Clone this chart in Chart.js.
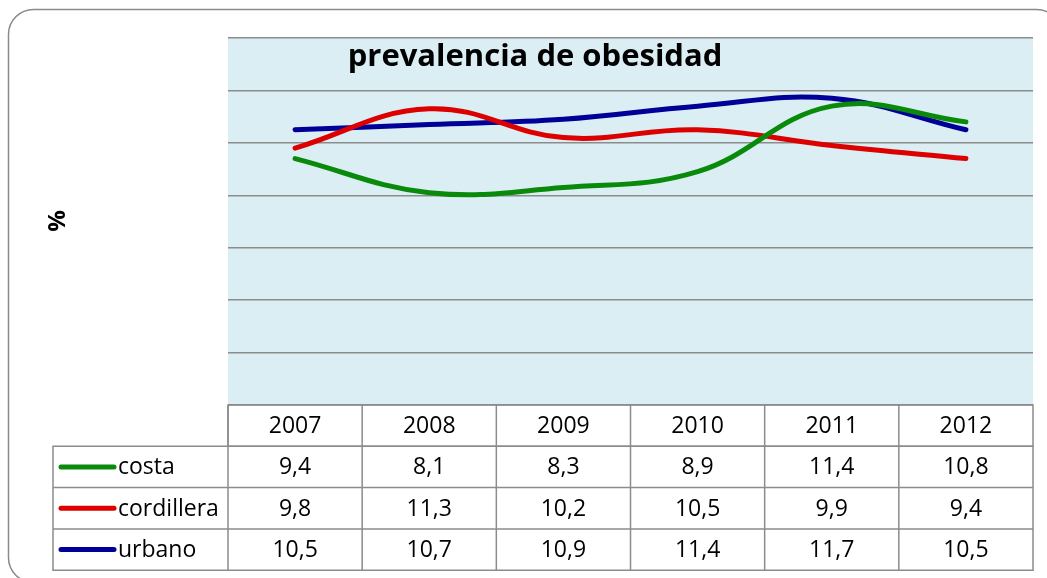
<!DOCTYPE html>
<html>
<head>
<meta charset="utf-8">
<script src="https://cdn.jsdelivr.net/npm/chart.js@4"></script>
<style>
html,body{margin:0;padding:0;background:#fff;}
#wrap{width:1047px;height:578px;position:relative;}
</style>
</head>
<body>
<div id="wrap"><canvas id="c" width="1047" height="578"></canvas></div>
<script>
const categories = ['2007', '2008', '2009', '2010', '2011', '2012'];
const seriesNames = ['costa', 'cordillera', 'urbano'];
const costa = [9.4, 8.1, 8.3, 8.9, 11.4, 10.8];
const cordillera = [9.8, 11.3, 10.2, 10.5, 9.9, 9.4];
const urbano = [10.5, 10.7, 10.9, 11.4, 11.7, 10.5];
const seriesColors = ['#0a8a0a', '#dd0000', '#000099'];
const yMin = 0, yMax = 14, yStep = 2;
const titleText = 'prevalencia de obesidad';
const yAxisLabel = '%';

const seriesValues = [costa, cordillera, urbano];
const FONT = '"Open Sans", "DejaVu Sans", sans-serif';

function fmt(v) { return v.toFixed(1).replace('.', ','); }

const decorPlugin = {
  id: 'decor',
  beforeDraw(chart) {
    const ctx = chart.ctx, a = chart.chartArea;
    ctx.save();
    ctx.strokeStyle = '#8a8a8a';
    ctx.lineWidth = 1.5;
    ctx.beginPath();
    ctx.roundRect(8.5, 9.5, 1053, 573, 25);
    ctx.stroke();
    ctx.fillStyle = '#dbeef3';
    ctx.fillRect(a.left, a.top, a.right - a.left, a.bottom - a.top);
    ctx.restore();
  },
  afterDraw(chart) {
    const ctx = chart.ctx, a = chart.chartArea, xs = chart.scales.x;
    ctx.save();
    const rowH = 41.3;
    const colW = (a.right - a.left) / categories.length;
    const legLeft = 53;
    const top = a.bottom;
    ctx.strokeStyle = '#8c8c8c';
    ctx.lineWidth = 1.5;
    ctx.beginPath();
    ctx.rect(a.left, top, a.right - a.left, rowH);
    ctx.stroke();
    ctx.beginPath();
    ctx.rect(legLeft, top + rowH, a.right - legLeft, rowH * seriesNames.length);
    for (let r = 1; r < seriesNames.length; r++) {
      const y = top + rowH * (r + 1);
      ctx.moveTo(legLeft, y); ctx.lineTo(a.right, y);
    }
    for (let i = 0; i < categories.length; i++) {
      const x = xs.getPixelForValue(i) - colW / 2;
      ctx.moveTo(x, top); ctx.lineTo(x, top + rowH * (seriesNames.length + 1));
    }
    ctx.stroke();

    ctx.fillStyle = '#000';
    ctx.font = '23px ' + FONT;
    ctx.textBaseline = 'middle';
    ctx.textAlign = 'center';
    categories.forEach((c, i) => {
      ctx.fillText(c, xs.getPixelForValue(i), top + rowH / 2 + 1);
    });
    seriesNames.forEach((name, r) => {
      const yc = top + rowH * (r + 1) + rowH / 2 + 1;
      ctx.strokeStyle = seriesColors[r];
      ctx.lineWidth = 5;
      ctx.lineCap = 'round';
      ctx.beginPath();
      ctx.moveTo(61, yc - 1); ctx.lineTo(114, yc - 1);
      ctx.stroke();
      ctx.textAlign = 'left';
      ctx.fillStyle = '#000';
      ctx.fillText(name, 118, yc);
      ctx.textAlign = 'center';
      seriesValues[r].forEach((v, i) => {
        ctx.fillText(fmt(v), xs.getPixelForValue(i), yc);
      });
    });

    ctx.font = 'bold 31px ' + FONT;
    ctx.textAlign = 'center';
    ctx.textBaseline = 'alphabetic';
    ctx.fillText(titleText, 535, 66);

    ctx.save();
    ctx.translate(58, 221);
    ctx.rotate(-Math.PI / 2);
    ctx.font = 'bold 24px ' + FONT;
    ctx.textBaseline = 'middle';
    ctx.textAlign = 'center';
    ctx.fillText(yAxisLabel, 0, 0);
    ctx.restore();
    ctx.restore();
  }
};

new Chart(document.getElementById('c'), {
  type: 'line',
  data: {
    labels: categories,
    datasets: seriesNames.map((n, i) => ({
      label: n,
      data: seriesValues[i],
      borderColor: seriesColors[i],
      backgroundColor: seriesColors[i],
      borderWidth: 5,
      borderCapStyle: 'round',
      pointRadius: 0,
      tension: 0.4,
      fill: false
    }))
  },
  options: {
    responsive: false,
    animation: false,
    devicePixelRatio: 1,
    layout: { padding: { left: 228, right: 14, top: 38, bottom: 173 } },
    plugins: { legend: { display: false }, tooltip: { enabled: false }, title: { display: false } },
    scales: {
      x: {
        offset: true,
        grid: { display: false, drawTicks: false },
        border: { display: false },
        ticks: { display: false },
        afterFit(s) { s.height = 0; }
      },
      y: {
        min: yMin, max: yMax,
        ticks: { display: false, stepSize: yStep },
        grid: { color: '#8c8c8c', lineWidth: 1.5, drawTicks: false },
        border: { display: false },
        afterFit(s) { s.width = 0; }
      }
    }
  },
  plugins: [decorPlugin]
});
</script>
</body>
</html>
